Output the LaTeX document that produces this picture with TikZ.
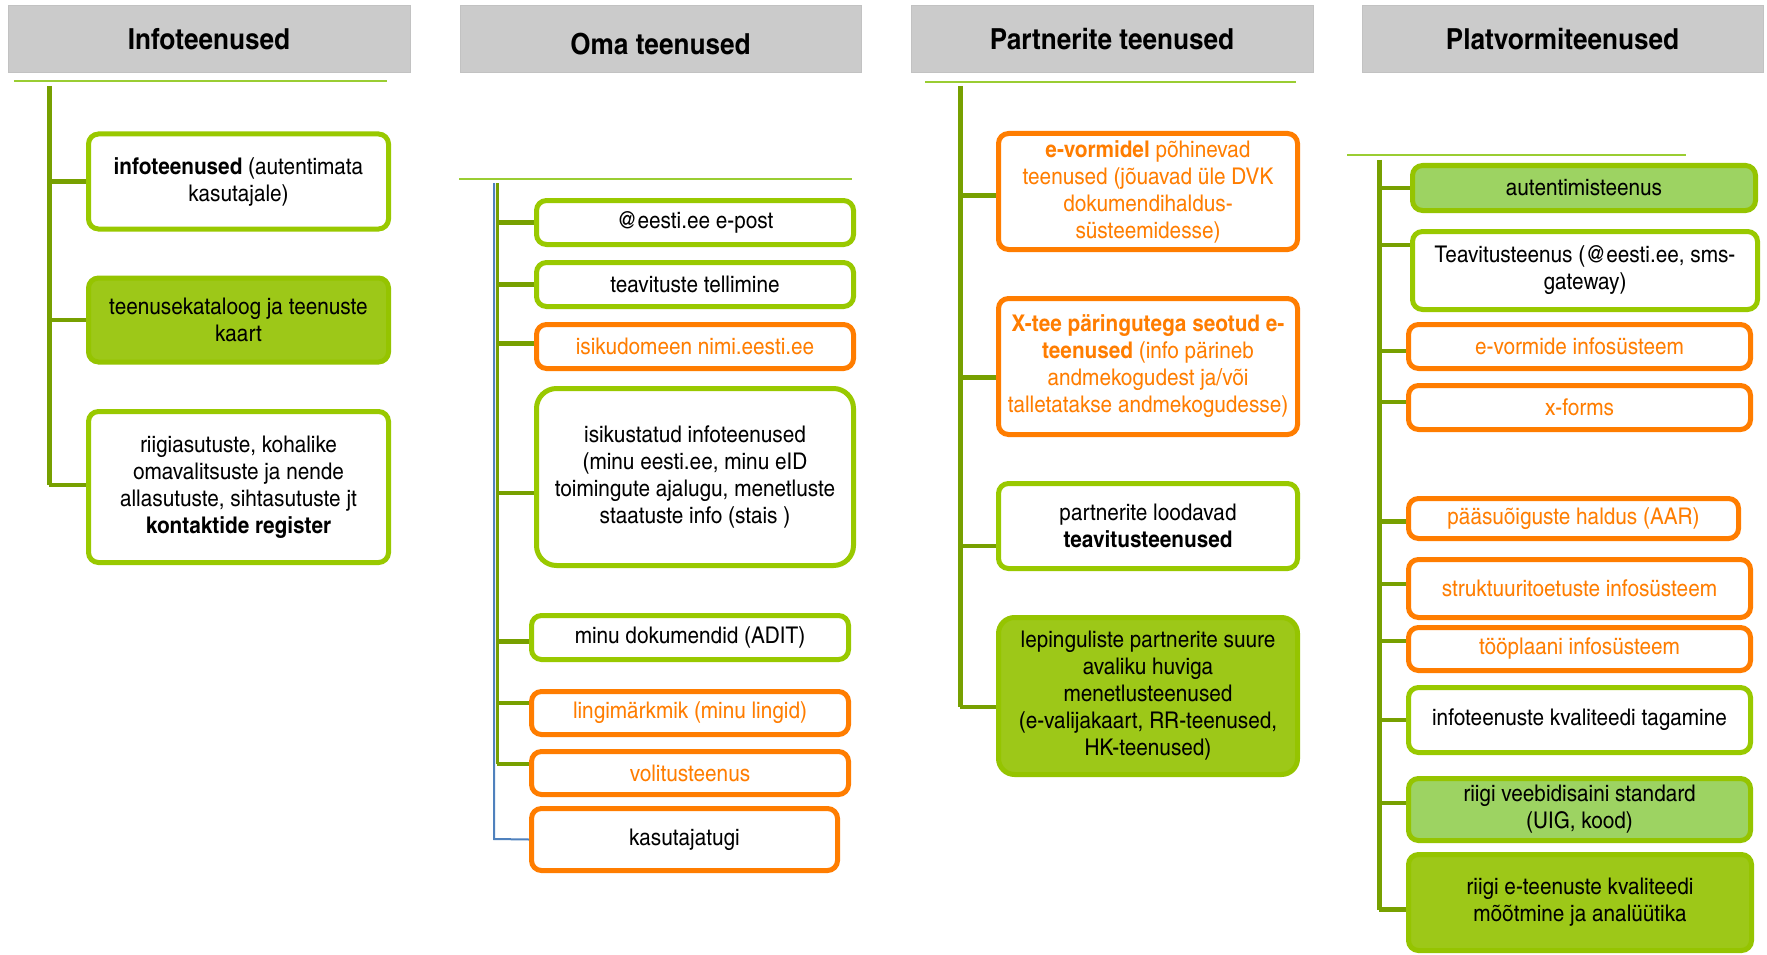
\documentclass[tikz,border=0pt]{standalone}
\usepackage{fontspec}
\setmainfont{TeX Gyre Heros Cn}[FakeStretch=1.1]
\definecolor{hdrgray}{HTML}{CBCBCB}
\definecolor{hdredge}{HTML}{C2C2C2}
\definecolor{thinline}{HTML}{9ACD32}
\definecolor{trunkgreen}{HTML}{77A000}
\definecolor{boxgreen}{HTML}{99C900}
\definecolor{boxorange}{HTML}{FF7D00}
\definecolor{fillgreen}{HTML}{9DC818}
\definecolor{filledge}{HTML}{95C400}
\definecolor{lightfill}{HTML}{9DD362}
\definecolor{linkblue}{HTML}{4F81BD}
\tikzset{
  hdr/.style={fill=hdrgray, draw=hdredge, line width=1pt, minimum height=61pt, minimum width=400pt, inner sep=0pt, font=\fontsize{29}{32}\selectfont\bfseries},
  basebox/.style={rounded corners=10pt, line width=5pt, align=center, inner sep=0pt, font=\fontsize{23}{27}\selectfont},
  gbox/.style={basebox, draw=boxgreen, fill=white, text=black},
  obox/.style={basebox, draw=boxorange, fill=white, text=boxorange},
  okbox/.style={basebox, draw=boxorange, fill=white, text=black},
  fbox/.style={basebox, draw=filledge, fill=fillgreen, text=black},
  lbox/.style={basebox, draw=filledge, fill=lightfill, text=black},
  topline/.style={draw=thinline, line width=2pt},
  trunk/.style={draw=trunkgreen, line width=5pt},
  branch/.style={draw=trunkgreen, line width=4.5pt},
  bluelink/.style={draw=linkblue, line width=2pt},
}
\begin{document}
\begin{tikzpicture}[x=1pt,y=-1pt]
\useasboundingbox[fill=white] (0,0) rectangle (1767,955);

% ---------- headers ----------
\node[hdr, minimum width=402pt, minimum height=67pt] (h1) at (209,39.5) {Infoteenused};
\node[hdr, minimum width=401pt, minimum height=67pt] (h2) at (660.5,39.5) {\raisebox{-15pt}[0pt][0pt]{Oma teenused}};
\node[hdr, minimum width=402pt, minimum height=67pt] (h3) at (1112,39.5) {Partnerite teenused};
\node[hdr, minimum width=401pt, minimum height=67pt] (h4) at (1562.5,39.5) {Platvormiteenused};

% ---------- thin lines ----------
\coordinate (l1a) at (14,81.5);  \coordinate (l1b) at (387,81.5);
\coordinate (l2a) at (459,179); \coordinate (l2b) at (852,179);
\coordinate (l3a) at (925,82);  \coordinate (l3b) at (1296,82);
\coordinate (l4a) at (1347,155);\coordinate (l4b) at (1686,155);
\draw[topline] (l1a) -- (l1b);
\draw[topline] (l2a) -- (l2b);
\draw[topline] (l3a) -- (l3b);
\draw[topline] (l4a) -- (l4b);

% ---------- column 1 ----------
\node[gbox, minimum width=300pt, minimum height=95pt] (i1) at (238.5,181.5) {\textbf{infoteenused} (autentimata\\kasutajale)};
\node[fbox, minimum width=300pt, minimum height=84pt] (i2) at (238.5,320) {teenusekataloog ja teenuste\\kaart};
\node[gbox, minimum width=300pt, minimum height=151pt] (i3) at (238.5,487) {riigiasutuste, kohalike\\omavalitsuste ja nende\\allasutuste, sihtasutuste jt\\\textbf{kontaktide register}};
\coordinate (t1) at (49,86);
\draw[trunk] (t1) -- ([yshift=2pt]i3.west -| t1);
\draw[branch] (t1 |- i1.west) -- (i1.west);
\draw[branch] (t1 |- i2.west) -- (i2.west);
\draw[branch] ([yshift=2pt]i3.west -| t1) -- ([yshift=2pt]i3.west);

% ---------- column 2 ----------
\node[gbox, minimum width=317pt, minimum height=44pt] (o1) at (695,222.5) {@eesti.ee e-post};
\node[gbox, minimum width=317pt, minimum height=44pt] (o2) at (695,284.5) {teavituste tellimine};
\node[obox, minimum width=317pt, minimum height=44pt] (o3) at (695,346.5) {isikudomeen nimi.eesti.ee};
\node[gbox, rounded corners=20pt, minimum width=317pt, minimum height=177pt] (o4) at (695,477) {isikustatud infoteenused\\(minu eesti.ee, minu eID\\toimingute ajalugu, menetluste\\staatuste info (stais )};
\node[gbox, minimum width=317pt, minimum height=44pt] (o5) at (690,637.5) {minu dokumendid (ADIT)};
\node[obox, minimum width=317pt, minimum height=43pt] (o6) at (690,713) {lingimärkmik (minu lingid)};
\node[obox, minimum width=317pt, minimum height=43pt] (o7) at (690,773) {volitusteenus};
\node[okbox, minimum width=306pt, minimum height=62pt] (o8) at (684.5,839.5) {kasutajatugi};
\coordinate (t2b) at (494,183);
\coordinate (t2) at (497,183);
\coordinate (b2) at (494,839);
\draw[bluelink] (t2b) -- (b2) -- (o8.west);
\draw[draw=trunkgreen, line width=3pt] (t2) -- ([yshift=9pt]o7.west -| t2);
\draw[branch] (t2 |- o1.west) -- (o1.west);
\draw[branch] (t2 |- o2.west) -- (o2.west);
\draw[branch] ([yshift=3pt]o3.west -| t2) -- ([yshift=3pt]o3.west);
\draw[branch] ([yshift=-16pt]o4.west -| t2) -- ([yshift=-16pt]o4.west);
\draw[branch] ([yshift=-4pt]o5.west -| t2) -- ([yshift=-4pt]o5.west);
\draw[branch] ([yshift=10pt]o6.west -| t2) -- ([yshift=10pt]o6.west);
\draw[branch] ([yshift=9pt]o7.west -| t2) -- ([yshift=9pt]o7.west);

% ---------- column 3 ----------
\node[obox, minimum width=299pt, minimum height=116pt] (p1) at (1148,191.5) {\textbf{e-vormidel} põhinevad\\teenused (jõuavad üle DVK\\dokumendihaldus-\\süsteemidesse)};
\node[obox, minimum width=299pt, minimum height=136pt] (p2) at (1148,366.5) {\textbf{X-tee päringutega seotud e-}\\\textbf{teenused} (info pärineb\\andmekogudest ja/või\\talletatakse andmekogudesse)};
\node[gbox, minimum width=299pt, minimum height=85pt] (p3) at (1148,526) {partnerite loodavad\\\textbf{teavitusteenused}};
\node[fbox, rounded corners=16pt, minimum width=299pt, minimum height=157pt] (p4) at (1148,696) {lepinguliste partnerite suure\\avaliku huviga\\menetlusteenused\\(e-valijakaart, RR-teenused,\\HK-teenused)};
\coordinate (t3) at (960,86);
\draw[trunk] (t3) -- ([yshift=-11pt]p4.west -| t3);
\draw[branch] ([yshift=-4pt]p1.west -| t3) -- ([yshift=-4pt]p1.west);
\draw[branch] ([yshift=-11pt]p2.west -| t3) -- ([yshift=-11pt]p2.west);
\draw[branch] ([yshift=-20pt]p3.west -| t3) -- ([yshift=-20pt]p3.west);
\draw[branch] ([yshift=-11pt]p4.west -| t3) -- ([yshift=-11pt]p4.west);

% ---------- column 4 ----------
\node[lbox, minimum width=343pt, minimum height=45pt] (q1) at (1584,188) {autentimisteenus};
\node[gbox, minimum width=345pt, minimum height=78pt] (q2) at (1585,270.5) {Teavitusteenus (@eesti.ee, sms-\\gateway)};
\node[obox, minimum width=342pt, minimum height=44pt] (q3) at (1579.5,346.5) {e-vormide infosüsteem};
\node[obox, minimum width=342pt, minimum height=44pt] (q4) at (1579.5,407.5) {x-forms};
\node[obox, minimum width=330pt, minimum height=40pt] (q5) at (1573.5,518.5) {pääsuõiguste haldus (AAR)};
\node[obox, minimum width=342pt, minimum height=58pt] (q6) at (1579.5,588.5) {struktuuritoetuste infosüsteem};
\node[obox, minimum width=342pt, minimum height=43pt] (q7) at (1579.5,649) {tööplaani infosüsteem};
\node[gbox, minimum width=342pt, minimum height=65pt] (q8) at (1579.5,720) {infoteenuste kvaliteedi tagamine};
\node[lbox, minimum width=342pt, minimum height=62pt] (q9) at (1579.5,809.5) {riigi veebidisaini standard\\(UIG, kood)};
\node[fbox, minimum width=343pt, minimum height=96pt] (q10) at (1580,902.5) {riigi e-teenuste kvaliteedi\\mõõtmine ja analüütika};
\coordinate (t4) at (1379,160);
\draw[trunk] (t4) -- ([yshift=-7pt]q10.west -| t4);
\draw[branch] (t4 |- q1.west) -- (q1.west);
\draw[branch] ([yshift=25.5pt]q2.west -| t4) -- ([yshift=25.5pt]q2.west);
\draw[branch] ([yshift=-4.5pt]q3.west -| t4) -- ([yshift=-4.5pt]q3.west);
\draw[branch] ([yshift=5.5pt]q4.west -| t4) -- ([yshift=5.5pt]q4.west);
\draw[branch] ([yshift=-3pt]q5.west -| t4) -- ([yshift=-3pt]q5.west);
\draw[branch] ([yshift=4.5pt]q6.west -| t4) -- ([yshift=4.5pt]q6.west);
\draw[branch] ([yshift=8pt]q7.west -| t4) -- ([yshift=8pt]q7.west);
\draw[branch] (t4 |- q8.west) -- (q8.west);
\draw[branch] ([yshift=6.5pt]q9.west -| t4) -- ([yshift=6.5pt]q9.west);
\draw[branch] ([yshift=-7pt]q10.west -| t4) -- ([yshift=-7pt]q10.west);
\end{tikzpicture}
\end{document}
